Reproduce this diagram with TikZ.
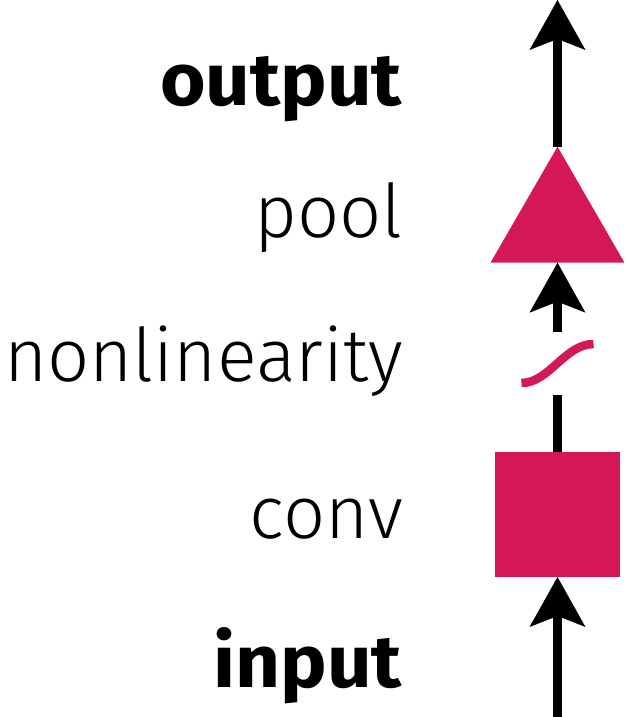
\documentclass[tikz,border=0pt]{standalone}
\usepackage{fontspec}
\setmainfont{Fira Sans Light}[BoldFont={Fira Sans Bold}, BoldFeatures={FakeStretch=1.055}]
\usetikzlibrary{arrows.meta,shapes.geometric}
\definecolor{mag}{HTML}{D31759}
\tikzset{
  lbl/.style={anchor=base east, inner sep=0pt, font=\fontsize{74}{80}\selectfont},
  flow/.style={line width=8.5pt, black},
  head/.style={-{Stealth[length=50pt, width=56pt, inset=11pt, line width=0pt]}},
}
\begin{document}
\begin{tikzpicture}[x=1pt,y=-1pt]
\useasboundingbox (0,0) rectangle (625,717);
% shapes
\node[regular polygon, regular polygon sides=3, fill=mag, inner sep=0pt, outer sep=0pt,
      minimum size=154.7pt] (pool) at (557.5,224) {};
\node[rectangle, fill=mag, inner sep=0pt, outer sep=0pt, minimum size=125pt] (conv) at (557.5,514.5) {};
\node[rectangle, inner sep=0pt, outer sep=0pt, minimum width=72pt, minimum height=63pt] (nl) at (557.5,363.5) {};
\coordinate (top) at (557.5,0);
\coordinate (bot) at (557.5,717);
% sigmoid
\draw[mag, line width=8.5pt] (nl.west |- 0,383) .. controls (549,383) and (565,344) .. (nl.east |- 0,344);
% connectors
\draw[flow, head] (pool.corner 1) -- (top);
\draw[flow, head] (nl.north) -- (pool.side 2);
\draw[flow] (conv.north) -- (nl.south);
\draw[flow, head] (bot) -- (conv.south);
% labels
\node[lbl] (lout) at (403,105) {\textbf{output}};
\node[lbl] (lpool) at (403,237) {pool};
\node[lbl] (lnl) at (403,381) {nonlinearity};
\node[lbl] (lconv) at (403,538) {conv};
\node[lbl] (lin) at (403,687) {\textbf{input}};
\end{tikzpicture}
\end{document}
